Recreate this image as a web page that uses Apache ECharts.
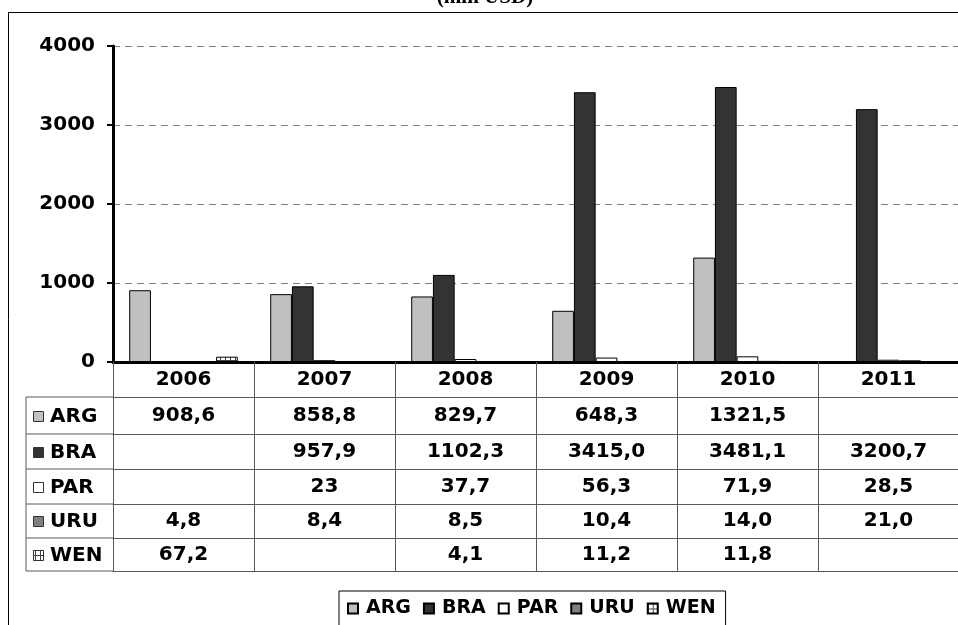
<!DOCTYPE html>
<html>
<head>
<meta charset="utf-8">
<script src="https://cdn.jsdelivr.net/npm/echarts@6/dist/echarts.min.js"></script>
<style>
html,body{margin:0;padding:0;background:#fff;}
#main{width:958px;height:625px;}
</style>
</head>
<body>
<div id="main"></div>
<script>
// ---- data ----
const years = ['2006', '2007', '2008', '2009', '2010', '2011'];
const seriesNames = ['ARG', 'BRA', 'PAR', 'URU', 'WEN'];
const ARG = ['908,6', '858,8', '829,7', '648,3', '1321,5', ''];
const BRA = ['', '957,9', '1102,3', '3415,0', '3481,1', '3200,7'];
const PAR = ['', '23', '37,7', '56,3', '71,9', '28,5'];
const URU = ['4,8', '8,4', '8,5', '10,4', '14,0', '21,0'];
const WEN = ['67,2', '', '4,1', '11,2', '11,8', ''];
const yTicks = [0, 1000, 2000, 3000, 4000];
const titleText = '(mln USD)';

const tableRows = [ARG, BRA, PAR, URU, WEN];
const toNum = s => (s === '' ? null : parseFloat(s.replace(',', '.')));

// ---- styles / layout ----
const FONT = 'DejaVu Sans';
const FS = 20;
const gridLeft = 113, gridTop = 46, gridW = 846, gridH = 316;
const gridBottom = gridTop + gridH;
const rowTops = [397, 434, 469, 504, 538];
const tableBottom = 571;
const lineGray = '#5a5a5a';

function makePattern() {
  const c = document.createElement('canvas');
  c.width = 5; c.height = 5;
  const g = c.getContext('2d');
  g.fillStyle = '#ffffff'; g.fillRect(0, 0, 5, 5);
  g.fillStyle = '#404040';
  g.fillRect(0, 0, 5, 1);
  g.fillRect(0, 0, 1, 5);
  return c;
}
const wenPattern = { image: makePattern(), repeat: 'repeat' };
const colors = ['#c0c0c0', '#333333', '#ffffff', '#808080', wenPattern];

const chart = echarts.init(document.getElementById('main'));

const xAxes = [{
  type: 'category', data: years, gridIndex: 0, position: 'bottom',
  axisLine: { show: true, lineStyle: { color: '#000', width: 3 } },
  axisTick: { show: true, alignWithLabel: false, interval: 0, length: rowTops[0] - gridBottom, lineStyle: { color: lineGray, width: 1 } },
  axisLabel: { interval: 0, margin: 8, fontFamily: FONT, fontWeight: 'bold', fontSize: FS, color: '#000' },
  z: 5
}];
tableRows.forEach((row, k) => {
  const top = rowTops[k];
  const bottom = k + 1 < rowTops.length ? rowTops[k + 1] : tableBottom;
  xAxes.push({
    type: 'category', data: years, gridIndex: 0, position: 'bottom',
    offset: top - gridBottom,
    axisLine: { show: true, lineStyle: { color: lineGray, width: 1 } },
    axisTick: { show: true, alignWithLabel: false, interval: 0, length: bottom - top, lineStyle: { color: lineGray, width: 1 } },
    axisLabel: {
      interval: 0, margin: Math.round((bottom - top - FS) / 2), fontFamily: FONT, fontWeight: 'bold', fontSize: FS, color: '#000',
      formatter: (v, i) => row[i]
    },
    splitLine: { show: false }
  });
});
xAxes.push({
  type: 'category', data: years, gridIndex: 0, position: 'bottom',
  offset: tableBottom - gridBottom,
  axisLine: { show: true, lineStyle: { color: lineGray, width: 1 } },
  axisTick: { show: false }, axisLabel: { show: false }, splitLine: { show: false }
});

const graphics = [
  { type: 'rect', shape: { x: 8.5, y: 12.5, width: 1000, height: 700 }, style: { fill: null, stroke: '#000', lineWidth: 1 }, z: -10, silent: true },
  { type: 'text', style: { text: titleText, x: 485, y: 8, textAlign: 'center', textVerticalAlign: 'bottom', fill: '#000', font: 'bold 21px "Liberation Serif"' } },
  { type: 'line', shape: { x1: 26, y1: rowTops[0], x2: 26, y2: tableBottom }, style: { stroke: lineGray, lineWidth: 1 } },
  { type: 'line', shape: { x1: 26, y1: tableBottom, x2: gridLeft, y2: tableBottom }, style: { stroke: lineGray, lineWidth: 1 } }
];
seriesNames.forEach((name, k) => {
  const top = rowTops[k];
  const bottom = k + 1 < rowTops.length ? rowTops[k + 1] : tableBottom;
  const cy = (top + bottom) / 2;
  graphics.push({ type: 'line', shape: { x1: 26, y1: top, x2: gridLeft, y2: top }, style: { stroke: lineGray, lineWidth: 1 } });
  graphics.push({ type: 'rect', shape: { x: 33.5, y: Math.round(cy - 5) + 0.5, width: 10, height: 10 }, style: { fill: colors[k], stroke: '#333', lineWidth: 1 } });
  graphics.push({ type: 'text', style: { text: name, x: 50, y: cy + 1, textVerticalAlign: 'middle', fill: '#000', font: 'bold ' + FS + 'px "DejaVu Sans"' } });
});

const option = {
  animation: false,
  backgroundColor: '#fff',
  grid: { left: gridLeft, top: gridTop, width: gridW, height: gridH, containLabel: false, outerBoundsMode: 'none' },
  legend: {
    data: seriesNames, left: 339, top: 591, orient: 'horizontal',
    icon: 'rect', itemWidth: 10, itemHeight: 10, itemGap: 12,
    padding: [8, 10, 8, 8], borderColor: '#000', borderWidth: 1, backgroundColor: '#fff',
    textStyle: { fontFamily: FONT, fontWeight: 'bold', fontSize: 19, color: '#000', padding: [0, 0, 0, 3] },
    selectedMode: false
  },
  xAxis: xAxes,
  yAxis: {
    type: 'value', min: yTicks[0], max: yTicks[yTicks.length - 1], interval: 1000,
    axisLine: { show: true, lineStyle: { color: '#000', width: 3 } },
    axisTick: { show: true, length: 6, lineStyle: { color: '#000', width: 2 } },
    axisLabel: { margin: 18, fontFamily: FONT, fontWeight: 'bold', fontSize: FS, color: '#000', formatter: v => String(v) },
    splitLine: { show: true, lineStyle: { color: '#808080', width: 1, type: [7, 5] } }
  },
  series: tableRows.map((row, k) => ({
    name: seriesNames[k], type: 'bar', xAxisIndex: 0,
    data: row.map(toNum),
    barGap: '0%', barCategoryGap: '23%',
    itemStyle: { color: colors[k], borderColor: '#000', borderWidth: 1 },
    emphasis: { disabled: true }
  })),
  graphic: graphics
};
chart.setOption(option);
</script>
</body>
</html>
